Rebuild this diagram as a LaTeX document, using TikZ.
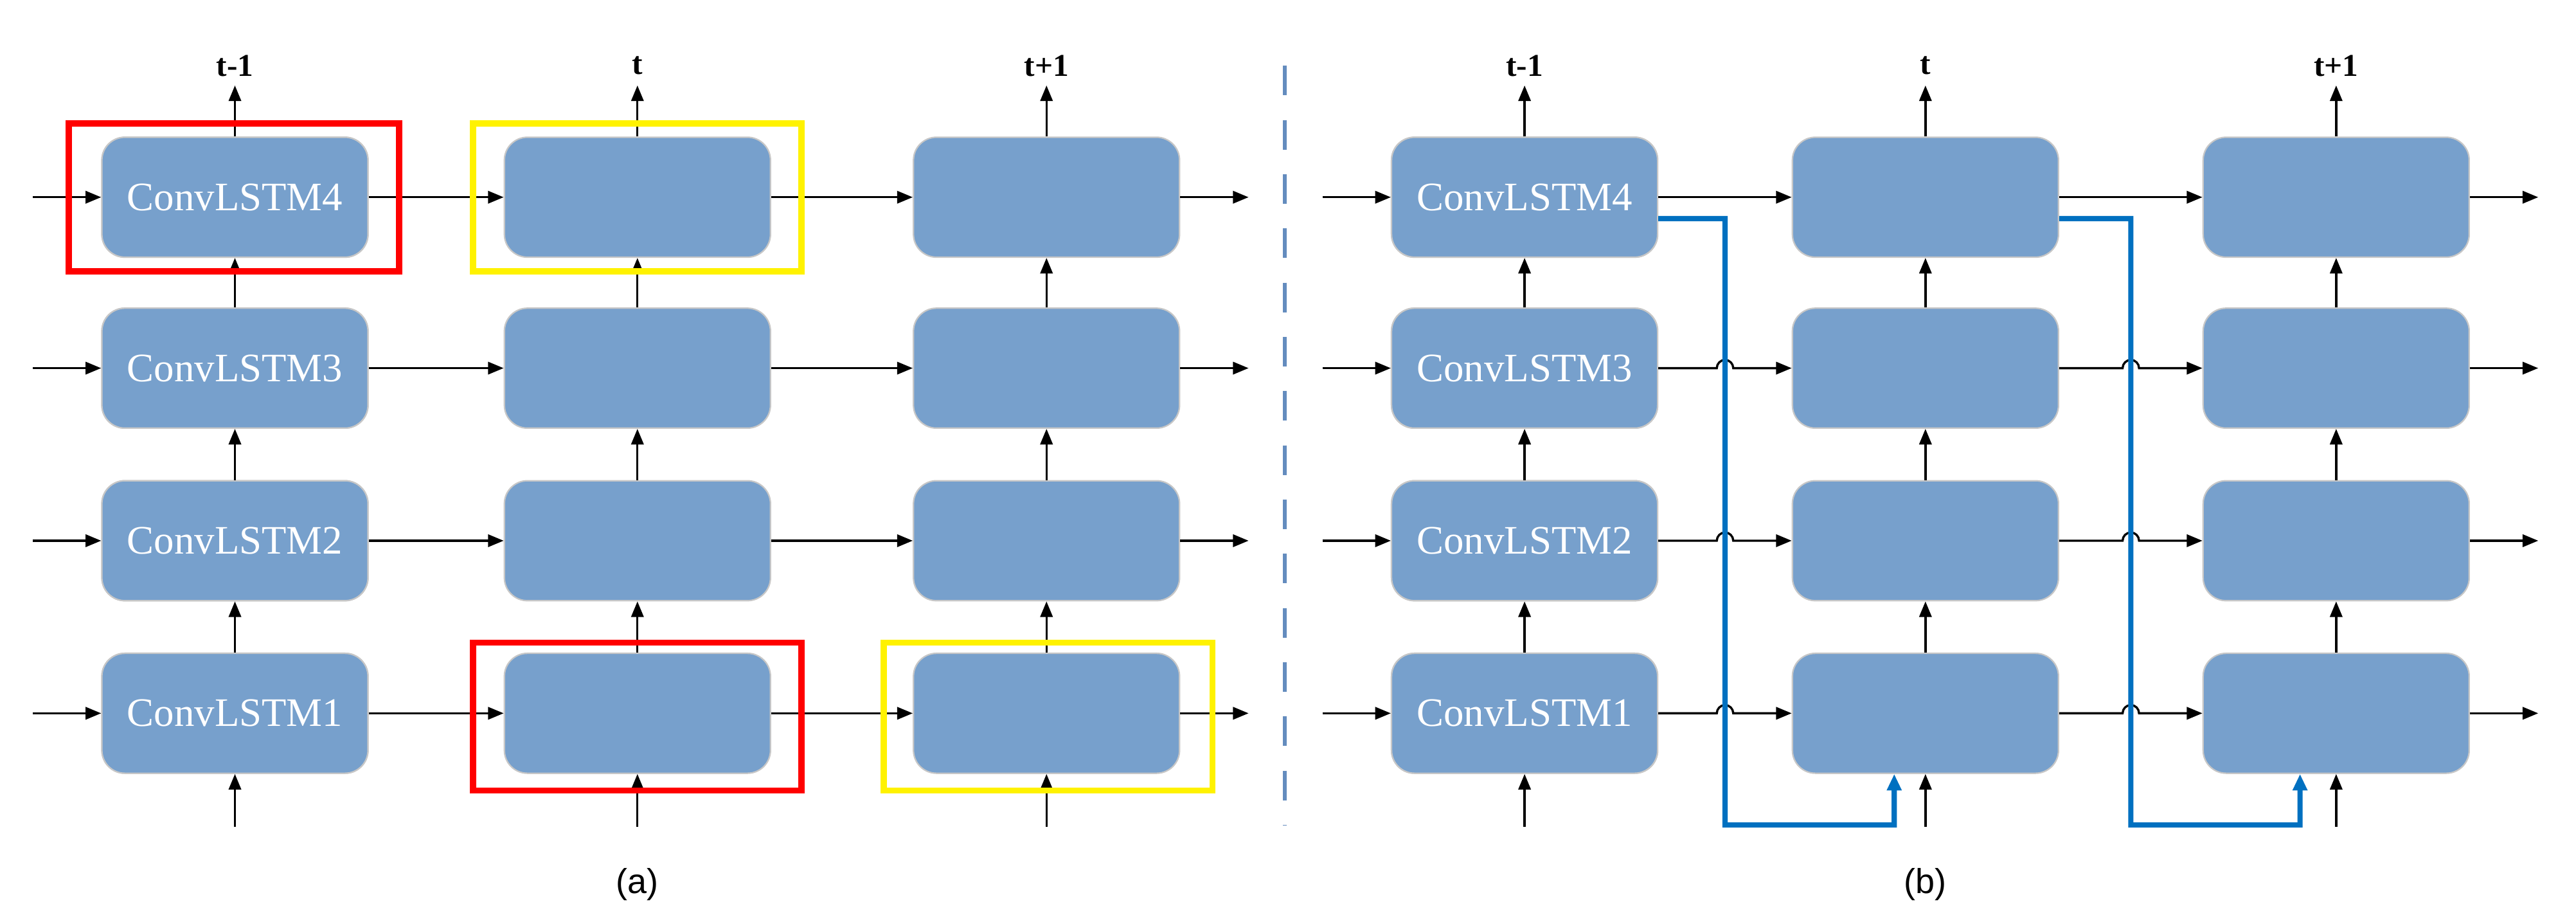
\documentclass[tikz,border=0pt]{standalone}
\usepackage{fontspec}
\setmainfont{Liberation Serif}
\newfontfamily\sansf{Liberation Sans}
\usetikzlibrary{arrows.meta}
\definecolor{boxc}{RGB}{119,160,204}
\definecolor{bluec}{RGB}{0,112,192}
\definecolor{dashc}{RGB}{100,140,190}
\begin{document}
\begin{tikzpicture}[x=0.02cm,y=-0.02cm,
  cell/.style={draw=black!22,line width=0.5pt,fill=boxc,rounded corners=0.28cm,minimum width=3.24cm,minimum height=1.46cm,inner sep=0pt,text=white,font=\fontsize{14}{14}\selectfont},
  arr/.style={line width=0.75pt,-{Triangle[length=0.19cm,width=0.15cm]}},
  hl/.style={line width=2.2pt,draw=#1},
  blu/.style={line width=1.8pt,bluec,-{Triangle[length=0.2cm,width=0.17cm]}},
  lab/.style={font=\bfseries\fontsize{11}{11}\selectfont}]
\useasboundingbox (0,0) rectangle (1568,561);
\foreach \p/\xa/\xb/\xc in {a/143/388/637,b/928/1172/1422}{
  \foreach \r/\y in {4/120,3/224,2/329,1/434}{
    \node[cell] (\p1\r) at (\xa,\y) {};
    \node[cell] (\p2\r) at (\xb,\y) {};
    \node[cell] (\p3\r) at (\xc,\y) {};
  }
}
\foreach \p in {a,b}{\foreach \r in {1,2,3,4}{\node[cell] at (\p1\r) {ConvLSTM\r};}}
\foreach \p/\xi/\xo in {a/20/760,b/805/1545}{
  \foreach \r/\y in {4/120,3/224,2/329,1/434}{
    \coordinate (\p in\r) at (\xi,\y);
    \coordinate (\p out\r) at (\xo,\y);
    \draw[arr] (\p in\r) -- (\p1\r);
    \draw[arr] (\p3\r) -- (\p out\r);
  }
  \foreach \c in {1,2,3}{
    \draw[arr] (\p\c1) -- (\p\c2);
    \draw[arr] (\p\c2) -- (\p\c3);
    \draw[arr] (\p\c3) -- (\p\c4);
  }
}
\foreach \p/\xa/\xb/\xc in {a/143/388/637,b/928/1172/1422}{
  \coordinate (\p t1) at (\xa,52); \coordinate (\p t2) at (\xb,52); \coordinate (\p t3) at (\xc,52);
  \coordinate (\p b1) at (\xa,503); \coordinate (\p b2) at (\xb,503); \coordinate (\p b3) at (\xc,503);
  \foreach \c in {1,2,3}{
    \draw[arr] (\p\c4) -- (\p t\c);
    \draw[arr] (\p b\c) -- (\p\c1);
  }
  \node[lab] at (\xa,40) {t-1};
  \node[lab] at (\xb,40) {t};
  \node[lab] at (\xc,40) {t+1};
}
\foreach \r in {1,2,3,4}{
  \draw[arr] (a1\r) -- (a2\r);
  \draw[arr] (a2\r) -- (a3\r);
}
\draw[arr] (b14) -- (b24);
\draw[arr] (b24) -- (b34);
\foreach \r/\y in {3/224,2/329,1/434}{
  \draw[arr] (b1\r.east) -- (1045,\y) arc[start angle=180,end angle=0,radius=0.1cm] -- (b2\r.west);
  \draw[arr] (b2\r.east) -- (1292,\y) arc[start angle=180,end angle=0,radius=0.1cm] -- (b3\r.west);
}
\draw[hl=red] (42,75) rectangle (243,165);
\draw[hl=red] (288,391) rectangle (488,481);
\draw[hl=yellow] (288,75) rectangle (488,165);
\draw[hl=yellow] (538,391) rectangle (738,481);
\draw[dashc,line width=1.3pt,dash pattern=on 0.36cm off 0.3cm] (782,40) -- (782,502);
\draw[blu] ([yshift=-0.26cm]b14.east) -- (1050,133) -- (1050,502) -- (1153,502) -- ([xshift=-0.38cm]b21.south);
\draw[blu] ([yshift=-0.26cm]b24.east) -- (1297,133) -- (1297,502) -- (1400,502) -- ([xshift=-0.44cm]b31.south);
\node[font=\sansf\fontsize{12}{12}\selectfont] (la) at (388,538) {(a)};
\node[font=\sansf\fontsize{12}{12}\selectfont] (lb) at (1172,538) {(b)};
\end{tikzpicture}
\end{document}
